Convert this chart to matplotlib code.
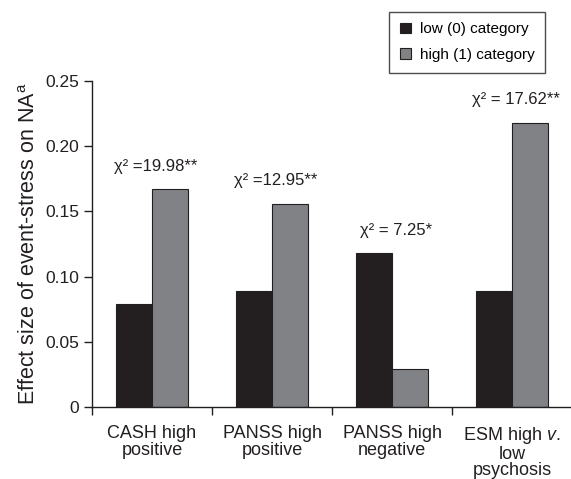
import matplotlib
matplotlib.use("Agg")
import matplotlib.pyplot as plt
import numpy as np

categories = ["CASH high\npositive", "PANSS high\npositive", "PANSS high\nnegative",
              "ESM high $\\it{v.}$\nlow\npsychosis"]
low_values = [0.079, 0.089, 0.118, 0.089]
high_values = [0.167, 0.156, 0.029, 0.218]
chi_labels = ["χ² =19.98**", "χ² =12.95**", "χ² = 7.25*", "χ² = 17.62**"]
y_ticks = [0, 0.05, 0.10, 0.15, 0.20, 0.25]
y_tick_labels = ["0", "0.05", "0.10", "0.15", "0.20", "0.25"]

plt.rcParams["font.family"] = ["Liberation Sans", "DejaVu Sans"]
plt.rcParams["mathtext.fontset"] = "custom"
plt.rcParams["mathtext.rm"] = "Liberation Sans"
plt.rcParams["mathtext.it"] = "Liberation Sans:italic"

ink = "#231f20"
low_color = "#231f20"
high_color = "#808285"

fig = plt.figure(figsize=(5.71, 4.79), dpi=100)
ax = fig.add_axes([0.161, 0.150, 0.841, 0.681])

x = np.arange(len(categories))
width = 0.30
ax.bar(x - width / 2, low_values, width, color=low_color, edgecolor=ink,
       linewidth=0.8, label="low (0) category")
ax.bar(x + width / 2, high_values, width, color=high_color, edgecolor=ink,
       linewidth=0.8, label="high (1) category")

for xi, lo, hi, lab in zip(x, low_values, high_values, chi_labels):
    ax.text(xi + 0.03, max(lo, hi) + 0.012, lab, ha="center", va="bottom",
            fontsize=12, color=ink)

ax.set_xlim(-0.5, 3.5)
ax.set_ylim(0, 0.25)
ax.set_yticks(y_ticks)
ax.set_yticklabels(y_tick_labels)
ax.set_xticks(np.arange(-0.5, 3.5, 1.0))
ax.set_xticklabels([])
ax.set_xticks(x, minor=True)
ax.set_xticklabels(categories, minor=True, linespacing=0.95)
ax.tick_params(axis="x", which="minor", length=0, pad=13, labelsize=13, colors=ink)
ax.tick_params(axis="x", which="major", length=6, width=1, direction="out", color=ink)
ax.tick_params(axis="y", length=6, width=1, labelsize=12.5, colors=ink, pad=3)

ax.set_ylabel("Effect size of event-stress on NA$^{\\mathrm{a}}$", fontsize=15.5,
              color=ink, labelpad=4)

for spine in ["top", "right"]:
    ax.spines[spine].set_visible(False)
for spine in ["bottom", "left"]:
    ax.spines[spine].set_color(ink)
    ax.spines[spine].set_linewidth(1)
ax.spines["left"].set_bounds(0, 0.25)

leg = ax.legend(loc="upper left", bbox_to_anchor=(0.619, 1.212), frameon=True,
                fancybox=False, fontsize=11, handlelength=0.7, handleheight=0.7,
                handletextpad=0.6, borderpad=0.7, labelspacing=0.75,
                borderaxespad=0)
leg.get_frame().set_edgecolor(ink)
leg.get_frame().set_linewidth(1)

fig.savefig("out.png", dpi=100)
